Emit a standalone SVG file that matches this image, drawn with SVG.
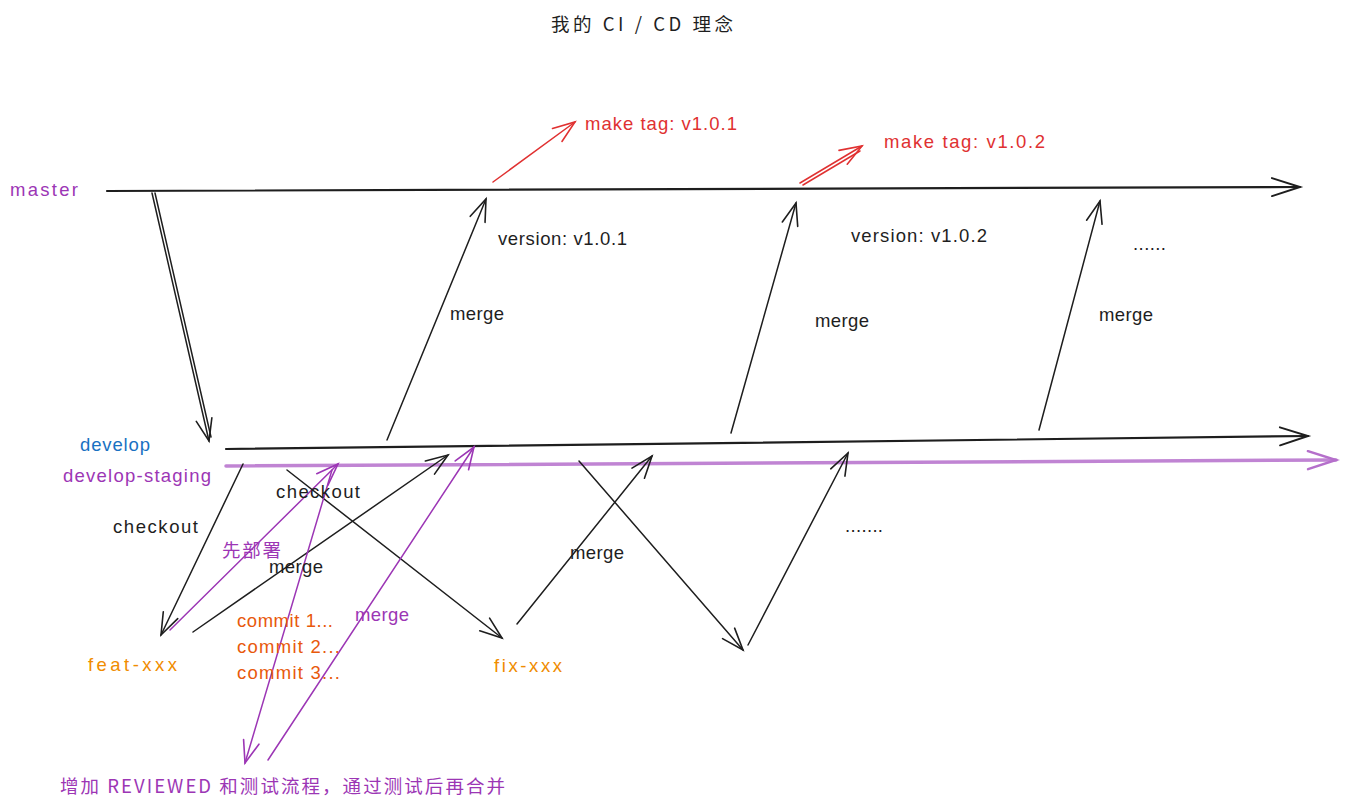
<svg xmlns="http://www.w3.org/2000/svg" width="1348" height="809" viewBox="0 0 1348 809">
<style>
.t{font-family:"Liberation Sans","Noto Sans CJK SC",sans-serif;font-size:18.5px;fill:#1e1e1e}
.cjk{font-family:"Noto Sans CJK SC","Liberation Sans",sans-serif}
.purple{fill:#9c36b5}
.blue{fill:#1971c2}
.orange{fill:#f08c00}
.redo{fill:#e8590c}
.red{fill:#e03131}
.lk{stroke:#1e1e1e;stroke-width:1.5;fill:none;stroke-linecap:round}
.lkb{stroke:#1e1e1e;stroke-width:2.2;fill:none;stroke-linecap:round}
.lp{stroke:#9c36b5;stroke-width:1.5;fill:none;stroke-linecap:round}
.lr{stroke:#e03131;stroke-width:1.5;fill:none;stroke-linecap:round}
</style>
<defs>
<marker id="ak" markerUnits="userSpaceOnUse" markerWidth="30" markerHeight="24" refX="24" refY="10" orient="auto">
<path d="M2,2 L24,10 L2,18" fill="none" stroke="#1e1e1e" stroke-width="1.6" stroke-linecap="round"/>
</marker>
<marker id="akl" markerUnits="userSpaceOnUse" markerWidth="34" markerHeight="24" refX="30" refY="10" orient="auto">
<path d="M2,1 L30,10 L2,19" fill="none" stroke="#1e1e1e" stroke-width="2" stroke-linecap="round"/>
</marker>
<marker id="ap" markerUnits="userSpaceOnUse" markerWidth="30" markerHeight="24" refX="24" refY="10" orient="auto">
<path d="M2,2 L24,10 L2,18" fill="none" stroke="#9c36b5" stroke-width="1.6" stroke-linecap="round"/>
</marker>
<marker id="apl" markerUnits="userSpaceOnUse" markerWidth="34" markerHeight="24" refX="30" refY="10" orient="auto">
<path d="M2,1 L30,10 L2,19" fill="none" stroke="#b56fcb" stroke-width="2.5" stroke-linecap="round"/>
</marker>
<marker id="ar" markerUnits="userSpaceOnUse" markerWidth="30" markerHeight="24" refX="24" refY="10" orient="auto">
<path d="M2,2 L24,10 L2,18" fill="none" stroke="#e03131" stroke-width="1.6" stroke-linecap="round"/>
</marker>
</defs>
<rect width="1348" height="809" fill="#ffffff"/>

<g id="connectors">
<line class="lkb" x1="107" y1="191" x2="1300" y2="187" marker-end="url(#akl)"/>
<line class="lkb" x1="226" y1="449" x2="1308" y2="436" marker-end="url(#akl)"/>
<line x1="226" y1="466" x2="1336" y2="460" stroke="#b56fcb" stroke-width="3.5" stroke-opacity="0.85" stroke-linecap="round" marker-end="url(#apl)"/>
<line class="lk" x1="152" y1="193" x2="209" y2="441" marker-end="url(#ak)"/>
<line class="lk" x1="155" y1="193" x2="211" y2="437"/>
<line class="lk" x1="387" y1="440" x2="486" y2="199" marker-end="url(#ak)"/>
<line class="lk" x1="731" y1="433" x2="796" y2="203" marker-end="url(#ak)"/>
<line class="lk" x1="1039" y1="430" x2="1100" y2="201" marker-end="url(#ak)"/>
<line class="lr" x1="493" y1="182" x2="575" y2="122" marker-end="url(#ar)"/>
<line class="lr" x1="800" y1="183" x2="862" y2="146" marker-end="url(#ar)"/>
<line class="lr" x1="803" y1="185" x2="860" y2="151"/>
<line class="lk" x1="243" y1="464" x2="161" y2="635" marker-end="url(#ak)"/>
<line class="lp" x1="170" y1="630" x2="338" y2="464" marker-end="url(#ap)"/>
<line class="lk" x1="193" y1="632" x2="448" y2="455" marker-end="url(#ak)"/>
<line class="lk" x1="287" y1="470" x2="502" y2="638" marker-end="url(#ak)"/>
<line class="lp" x1="332" y1="470" x2="245" y2="763" marker-end="url(#ap)"/>
<line class="lp" x1="268" y1="760" x2="474" y2="447" marker-end="url(#ap)"/>
<line class="lk" x1="517" y1="624" x2="652" y2="456" marker-end="url(#ak)"/>
<line class="lk" x1="579" y1="461" x2="743" y2="650" marker-end="url(#ak)"/>
<line class="lk" x1="748" y1="645" x2="848" y2="453" marker-end="url(#ak)"/>
</g>

<g id="title"><text class="t cjk" x="551" y="31" font-size="19" textLength="182" lengthAdjust="spacing">我的 CI / CD 理念</text></g>
<g id="master"><text class="t purple" x="10" y="196" textLength="68" lengthAdjust="spacing">master</text></g>
<g id="develop"><text class="t blue" x="80" y="451" textLength="70" lengthAdjust="spacing">develop</text></g>
<g id="develop-staging"><text class="t purple" x="63" y="482" textLength="148" lengthAdjust="spacing">develop-staging</text></g>
<g id="feat-xxx"><text class="t orange" x="88" y="671" textLength="89" lengthAdjust="spacing">feat-xxx</text></g>
<g id="fix-xxx"><text class="t orange" x="494" y="672" textLength="68" lengthAdjust="spacing">fix-xxx</text></g>
<g id="tag1"><text class="t red" x="585" y="130" textLength="152" lengthAdjust="spacing">make tag: v1.0.1</text></g>
<g id="tag2"><text class="t red" x="884" y="148" textLength="161" lengthAdjust="spacing">make tag: v1.0.2</text></g>
<g id="version1"><text class="t" x="498" y="245" textLength="129" lengthAdjust="spacing">version: v1.0.1</text></g>
<g id="version2"><text class="t" x="851" y="242" textLength="136" lengthAdjust="spacing">version: v1.0.2</text></g>
<g id="dots1"><text class="t" x="1133" y="250" textLength="33" lengthAdjust="spacing">......</text></g>
<g id="dots2"><text class="t" x="845" y="532" textLength="38" lengthAdjust="spacing">.......</text></g>
<g id="merge1"><text class="t" x="450" y="320" textLength="54" lengthAdjust="spacing">merge</text></g>
<g id="merge2"><text class="t" x="815" y="327" textLength="54" lengthAdjust="spacing">merge</text></g>
<g id="merge3"><text class="t" x="1099" y="321" textLength="54" lengthAdjust="spacing">merge</text></g>
<g id="checkout1"><text class="t" x="113" y="533" textLength="85" lengthAdjust="spacing">checkout</text></g>
<g id="checkout2"><text class="t" x="276" y="498" textLength="84" lengthAdjust="spacing">checkout</text></g>
<g id="deploy-first"><text class="t cjk purple" x="222" y="557" font-size="19" textLength="59" lengthAdjust="spacing">先部署</text></g>
<g id="merge4"><text class="t" x="269" y="573" textLength="54" lengthAdjust="spacing">merge</text></g>
<g id="merge5"><text class="t purple" x="355" y="621" textLength="54" lengthAdjust="spacing">merge</text></g>
<g id="merge6"><text class="t" x="570" y="559" textLength="54" lengthAdjust="spacing">merge</text></g>
<g id="commits">
<text class="t redo" x="237" y="627" textLength="96" lengthAdjust="spacing">commit 1...</text>
<text class="t redo" x="237" y="653" textLength="103" lengthAdjust="spacing">commit 2...</text>
<text class="t redo" x="237" y="679" textLength="103" lengthAdjust="spacing">commit 3...</text>
</g>
<g id="note"><text class="t cjk purple" x="60" y="793" font-size="19" textLength="445" lengthAdjust="spacing">增加 REVIEWED 和测试流程，通过测试后再合并</text></g>
</svg>
